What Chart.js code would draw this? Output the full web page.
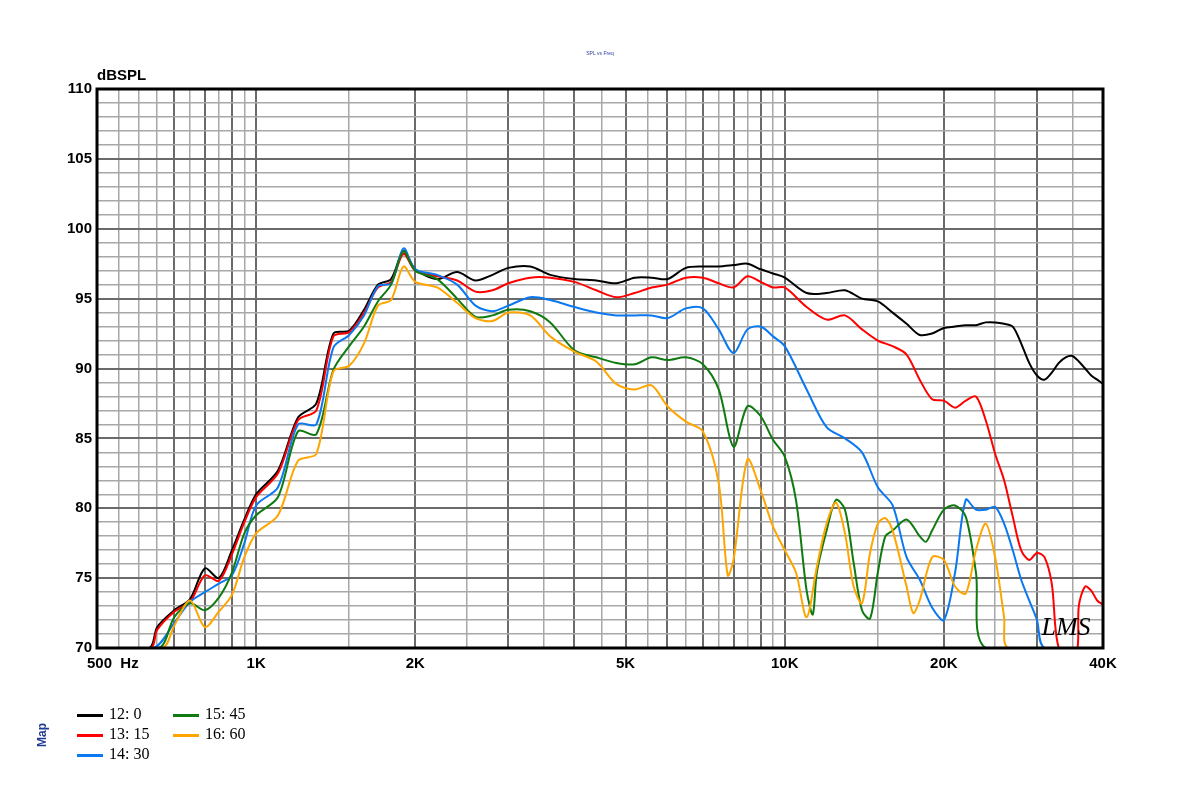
<!DOCTYPE html>
<html>
<head>
<meta charset="utf-8">
<script src="https://cdn.jsdelivr.net/npm/chart.js@4.4.1/dist/chart.umd.min.js"></script>
<style>
  body { margin: 0; background: #fff; }
  #wrap { position: relative; width: 1200px; height: 788px; }
  #legend { position: absolute; left: 77px; top: 705px; font: 16px "Liberation Serif", serif; }
  .item { position: absolute; white-space: nowrap; }
  .item i { display: inline-block; width: 26px; height: 3px; vertical-align: middle; margin-right: 6px; }
  #map { position: absolute; left: 30px; top: 728px; transform: rotate(-90deg); font: bold 12px "Liberation Sans", Arial; color: #1f3a93; }
</style>
</head>
<body>
<div id="wrap">
  <canvas id="myChart" width="1200" height="788"></canvas>
  <div id="map">Map</div>
  <div id="legend"></div>
</div>
<script>
// frequency (Hz) and level (dB)
const fBlack = [500,628,650,700,750,800,850,900,950,1000,1100,1200,1300,1400,1500,1600,1700,1800,1900,2000,2200,2400,2600,2800,3000,3300,3600,4000,4400,4800,5200,5600,6000,6500,7000,7500,8000,8500,9000,9500,10000,11000,12000,13000,14000,15000,16000,17000,18000,19000,20000,21000,22000,23000,24000,25000,26000,27000,28000,29000,30000,31000,32000,33000,34000,35000,36000,37000,38000,39000,40000];
const dbBlack = [70,70,71.5,72.7,73.5,75.7,75.0,77.0,79.2,81.0,82.7,86.5,87.5,92.5,92.7,94.2,96.0,96.4,98.4,97.1,96.4,96.9,96.3,96.7,97.2,97.3,96.7,96.4,96.3,96.1,96.5,96.5,96.4,97.2,97.3,97.3,97.4,97.5,97.1,96.8,96.5,95.4,95.4,95.6,95.0,94.8,94.0,93.2,92.4,92.5,92.9,93.0,93.1,93.1,93.3,93.3,93.2,93.0,91.8,90.4,89.5,89.2,89.7,90.4,90.8,90.9,90.5,90.0,89.5,89.2,88.9];

const fRed = [500,632,650,700,750,800,850,900,950,1000,1100,1200,1300,1400,1500,1600,1700,1800,1900,2000,2200,2400,2600,2800,3000,3300,3600,4000,4400,4800,5200,5600,6000,6500,7000,7500,8000,8500,9000,9500,10000,11000,12000,13000,14000,15000,16000,17000,18000,19000,20000,21000,22000,23000,24000,25000,26000,27000,28000,29000,30000,31000,32000,33000,35000,35800,36000,37000,38000,39000,40000];
const dbRed = [70,70,71.3,72.6,73.3,75.2,74.8,76.7,79.0,80.8,82.5,86.3,87.0,92.3,92.6,94.0,95.8,96.2,98.2,97.0,96.6,96.3,95.5,95.6,96.1,96.5,96.5,96.2,95.6,95.1,95.4,95.8,96.0,96.5,96.5,96.1,95.8,96.6,96.2,95.8,95.8,94.4,93.5,93.8,92.8,92.0,91.6,91.0,89.2,87.8,87.7,87.2,87.7,88.0,86.3,83.9,82.0,79.4,77.0,76.3,76.8,76.5,74.6,70,70,70,73.0,74.4,74.1,73.4,73.1];

const fBlue = [500,640,700,750,800,850,900,950,1000,1100,1200,1300,1400,1500,1600,1700,1800,1900,2000,2200,2400,2600,2800,3000,3300,3600,4000,4400,4800,5200,5600,6000,6500,7000,7500,8000,8500,9000,9500,10000,11000,12000,13000,14000,15000,16000,17000,18000,19000,20000,21000,22000,23000,24000,25000,26000,27000,28000,29000,30000,31000,40000];
const dbBlue = [70,70,71.8,73.3,74.0,74.6,75.2,77.5,80.2,81.5,86.0,86.0,91.5,92.4,93.8,95.9,96.1,98.6,97.1,96.7,96.0,94.5,94.1,94.5,95.1,94.9,94.4,94.0,93.8,93.8,93.8,93.6,94.3,94.3,92.8,91.1,92.8,93.0,92.3,91.6,88.5,85.8,85.0,84.0,81.5,80.2,76.5,74.9,72.9,72.0,75.4,80.6,79.9,79.9,80.1,78.9,77.0,74.9,73.4,72.0,70,70];

const fGreen = [500,655,700,750,800,850,900,950,1000,1100,1200,1300,1400,1500,1600,1700,1800,1900,2000,2200,2400,2600,2800,3000,3300,3600,4000,4400,4800,5200,5600,6000,6500,7000,7500,8000,8500,9000,9500,10000,10500,11000,11300,11500,12000,12500,13000,13500,14000,14500,15000,15500,16000,17000,18000,18500,19000,20000,21000,22000,23000,24000,40000];
const dbGreen = [70,70,72.2,73.2,72.7,73.6,75.4,78.2,79.5,80.8,85.5,85.3,89.9,91.6,93.0,94.8,96.0,98.4,97.0,96.4,95.0,93.7,93.8,94.2,94.1,93.3,91.3,90.8,90.4,90.3,90.8,90.6,90.8,90.3,88.5,84.4,87.3,86.6,84.9,83.7,80.6,74.1,72.4,75.4,78.4,80.6,79.9,76.1,72.7,72.1,75.4,78.0,78.4,79.2,78.0,77.6,78.4,79.9,80.2,79.4,75.4,70,70];

const fOrange = [500,665,700,750,800,850,900,950,1000,1100,1200,1300,1400,1500,1600,1700,1800,1900,2000,2200,2400,2600,2800,3000,3300,3600,4000,4400,4800,5200,5600,6000,6500,7000,7500,7800,8000,8500,9000,9500,10000,10500,11000,11500,12000,12500,13000,13500,14000,14500,15000,15500,16000,17000,17500,18000,19000,20000,21000,22000,23000,24000,25000,26000,26500,40000];
const dbOrange = [70,70,71.6,73.4,71.5,72.6,73.8,76.5,78.2,79.5,83.4,83.9,89.8,90.2,91.8,94.5,94.9,97.3,96.2,95.8,94.7,93.6,93.4,94.0,93.8,92.3,91.2,90.5,88.9,88.5,88.8,87.3,86.2,85.5,81.8,75.2,76.3,83.5,81.3,78.7,77.0,75.4,72.2,75.8,78.9,80.4,78.2,74.4,73.2,76.8,78.9,79.3,78.4,74.4,72.5,73.4,76.5,76.3,74.4,73.9,77.0,78.9,76.5,72.2,70,70];

const seriesNames = ['12: 0','13: 15','14: 30','15: 45','16: 60'];
const seriesColors = ['#000000','#ff0000','#0a78f0','#0f7a0f','#ffa500'];

const xGrid = [500,550,600,650,700,750,800,850,900,950,1000,1500,2000,2500,3000,3500,4000,4500,5000,5500,6000,6500,7000,7500,8000,8500,9000,9500,10000,15000,20000,25000,30000,35000,40000];
const xLabels = {1000:'1K',2000:'2K',5000:'5K',10000:'10K',20000:'20K',40000:'40K'};
const darkX = [700,800,900,1000,2000,3000,4000,5000,6000,7000,8000,9000,10000,20000,30000];

const pairs = (f, d) => f.map((v, i) => ({ x: v, y: d[i] }));
const allF = [fBlack, fRed, fBlue, fGreen, fOrange];
const allD = [dbBlack, dbRed, dbBlue, dbGreen, dbOrange];

// legend
const leg = document.getElementById('legend');
const pos = [[0,0],[0,20],[0,40],[96,0],[96,20]];
seriesNames.forEach((n, i) => {
  const d = document.createElement('div');
  d.className = 'item';
  d.style.left = pos[i][0] + 'px';
  d.style.top = pos[i][1] + 'px';
  d.innerHTML = '<i style="background:' + seriesColors[i] + '"></i>' + n;
  leg.appendChild(d);
});

const extras = {
  id: 'extras',
  afterDraw(chart) {
    const c = chart.ctx, a = chart.chartArea;
    c.save();
    c.strokeStyle = '#000';
    c.lineWidth = 3;
    c.strokeRect(a.left, a.top, a.right - a.left, a.bottom - a.top);
    c.fillStyle = '#000';
    c.font = 'bold 15px "Liberation Sans", Arial';
    c.textBaseline = 'alphabetic';
    c.fillText('dBSPL', 97, 80);
    c.fillText('500  Hz', 87, 668);
    c.fillStyle = '#2a3a9a';
    c.font = '5px "Liberation Sans", Arial';
    c.textAlign = 'center';
    c.fillText('SPL vs Freq', 600, 55);
    c.fillStyle = '#000';
    c.font = 'italic 26px "Liberation Serif", serif';
    c.fillText('LMS', 1066, 635);
    c.restore();
  }
};

const ctx = document.getElementById('myChart');
new Chart(ctx, {
  type: 'line',
  data: {
    datasets: seriesNames.map((n, i) => ({
      label: n,
      data: pairs(allF[i], allD[i]),
      borderColor: seriesColors[i],
      borderWidth: 2,
      pointRadius: 0,
      tension: 0.3,
      fill: false
    })).reverse()
  },
  options: {
    responsive: false,
    animation: false,
    layout: { padding: { left: 0, right: 97, top: 89, bottom: 110 } },
    plugins: { legend: { display: false }, tooltip: { enabled: false } },
    scales: {
      x: {
        type: 'logarithmic',
        min: 500, max: 40000,
        afterBuildTicks: s => { s.ticks = xGrid.map(v => ({ value: v })); },
        afterFit: s => { s.height = 30; },
        ticks: {
          autoSkip: false, maxRotation: 0, padding: 7,
          color: '#000',
          font: { family: '"Liberation Sans", Arial', size: 15, weight: 'bold' },
          callback: v => xLabels[v] || ''
        },
        grid: {
          drawTicks: false,
          color: c => darkX.includes(c.tick.value) ? '#6a6a6a' : '#a8a8a8',
          lineWidth: c => darkX.includes(c.tick.value) ? 2 : 1.5
        },
        border: { display: false }
      },
      y: {
        min: 70, max: 110,
        afterFit: s => { s.width = 97; },
        ticks: {
          stepSize: 1, autoSkip: false, padding: 5,
          color: '#000',
          font: { family: '"Liberation Sans", Arial', size: 15, weight: 'bold' },
          callback: v => v % 5 === 0 ? v : ''
        },
        grid: {
          drawTicks: false,
          color: c => c.tick.value % 5 === 0 ? '#6a6a6a' : '#a8a8a8',
          lineWidth: c => c.tick.value % 5 === 0 ? 2 : 1.5
        },
        border: { display: false }
      }
    }
  },
  plugins: [extras]
});
</script>
</body>
</html>
